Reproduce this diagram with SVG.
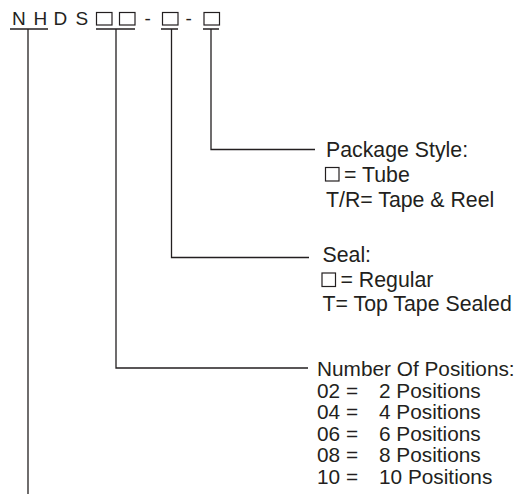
<svg xmlns="http://www.w3.org/2000/svg" width="517" height="494" viewBox="0 0 517 494">
<style>
.t{font-family:"Liberation Sans",Arial,sans-serif;font-size:21.3px;fill:#231f20}
.p{font-family:"Liberation Sans",Arial,sans-serif;font-size:20.8px;fill:#231f20}
.h{font-family:"Liberation Sans",Arial,sans-serif;font-size:19px;fill:#231f20}
.ln{stroke:#231f20;stroke-width:1.3;fill:none}
.bx{stroke:#231f20;stroke-width:1.2;fill:none}
</style>
<rect width="517" height="494" fill="#ffffff"/>
<g id="part-number">
<text class="h" x="12 27 33.5 48 53.5 68 75.5" y="25">N H D S</text>
<rect class="bx" x="96.5" y="12.5" width="15.5" height="12.5"/>
<rect class="bx" x="119.5" y="12.5" width="15.5" height="12.5"/>
<text class="h" x="144.5" y="25">-</text>
<rect class="bx" x="162.5" y="12.5" width="15.5" height="12.5"/>
<text class="h" x="185.5" y="25">-</text>
<rect class="bx" x="204" y="12.5" width="15.5" height="12.5"/>
</g>
<g id="connectors">
<path class="ln" d="M10 29H48M96 29H135M161 29H178M203 29H219"/>
<path class="ln" d="M28 29V494"/>
<path class="ln" d="M116 29V368H308"/>
<path class="ln" d="M171.5 29V257.5H309"/>
<path class="ln" d="M211 29V149.5H315"/>
</g>
<g id="package-style">
<text class="t" x="326" y="156.5">Package Style:</text>
<rect class="bx" x="325.5" y="167.5" width="13.5" height="13.5"/>
<text class="t" x="344" y="181.5">= Tube</text>
<text class="t" x="326" y="206.5">T/R= Tape &amp; Reel</text>
</g>
<g id="seal">
<text class="t" x="322.5" y="262">Seal:</text>
<rect class="bx" x="322" y="273" width="13.5" height="13.5"/>
<text class="t" x="340.5" y="286.5">= Regular</text>
<text class="t" x="322.5" y="311">T= Top Tape Sealed</text>
</g>
<g id="positions">
<text class="p" x="317" y="376">Number Of Positions:</text>
<text class="p" x="317" y="397.5">02 =</text><text class="p" x="379" y="397.5">2 Positions</text>
<text class="p" x="317" y="419">04 =</text><text class="p" x="379" y="419">4 Positions</text>
<text class="p" x="317" y="440.5">06 =</text><text class="p" x="379" y="440.5">6 Positions</text>
<text class="p" x="317" y="462">08 =</text><text class="p" x="379" y="462">8 Positions</text>
<text class="p" x="317" y="483.5">10 =</text><text class="p" x="379" y="483.5">10 Positions</text>
</g>
</svg>
